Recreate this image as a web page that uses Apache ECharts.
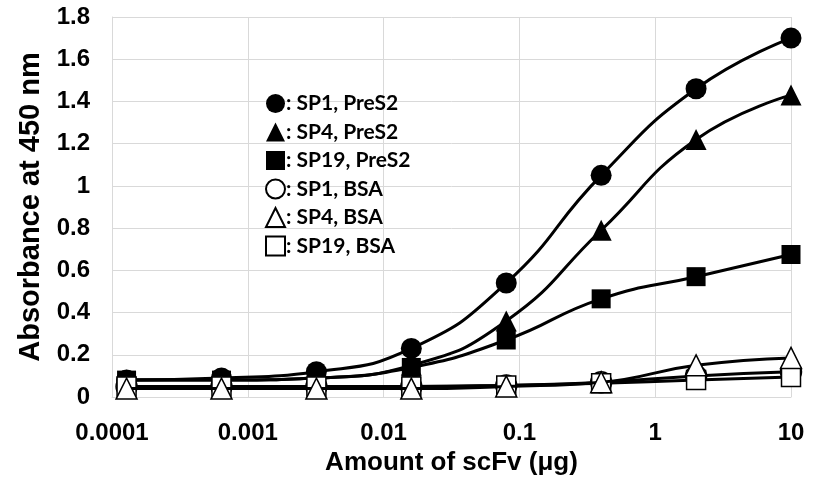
<!DOCTYPE html>
<html><head><meta charset="utf-8">
<script src="https://cdn.jsdelivr.net/npm/echarts@6/dist/echarts.min.js"></script>
<style>html,body{margin:0;padding:0;background:#fff}#c{width:819px;height:489px}</style>
</head><body><div id="c"></div>
<script>
const amounts = [0.000128, 0.00064, 0.0032, 0.016, 0.08, 0.4, 2, 10];
const seriesNames = [': SP1, PreS2', ': SP4, PreS2', ': SP19, PreS2', ': SP1, BSA', ': SP4, BSA', ': SP19, BSA'];
const sp1PreS2 = [0.08, 0.09, 0.12, 0.23, 0.54, 1.05, 1.46, 1.70];
const sp4PreS2 = [0.08, 0.08, 0.09, 0.15, 0.36, 0.79, 1.22, 1.43];
const sp19PreS2 = [0.08, 0.08, 0.09, 0.14, 0.27, 0.465, 0.57, 0.675];
const sp1BSA = [0.05, 0.05, 0.05, 0.05, 0.055, 0.07, 0.10, 0.12];
const sp4BSA = [0.04, 0.04, 0.04, 0.04, 0.05, 0.07, 0.15, 0.185];
const sp19BSA = [0.05, 0.05, 0.05, 0.05, 0.055, 0.065, 0.08, 0.095];
const symbols = ['circle', 'triangle', 'rect', 'circle', 'triangle', 'rect'];
const filled = [true, true, true, false, false, false];
const zOrder = [3, 3, 3, 4, 6, 5];
const values = [sp1PreS2, sp4PreS2, sp19PreS2, sp1BSA, sp4BSA, sp19BSA];

const chart = echarts.init(document.getElementById('c'), null, {renderer: 'canvas'});
const series = values.map((v, i) => ({
  name: seriesNames[i],
  type: 'line',
  smooth: true,
  data: v.map((y, k) => [amounts[k], y]),
  symbol: symbols[i],
  symbolSize: symbols[i] === 'rect' ? 19 : 21,
  lineStyle: {color: '#000', width: 3},
  itemStyle: {color: filled[i] ? '#000' : '#fff', borderColor: '#000', borderWidth: filled[i] ? 0 : 1.5, opacity: 1},
  z: zOrder[i]
}));
chart.setOption({
  animation: false,
  backgroundColor: '#fff',
  grid: {left: 112, right: 28, top: 17, bottom: 92},
  legend: {
    orient: 'vertical', left: 260, top: 88, itemGap: 7.5,
    itemWidth: 19, itemHeight: 19,
    data: seriesNames.map((n, i) => ({name: n, icon: symbols[i]})),
    textStyle: {fontFamily: 'Lato', fontWeight: 'bold', fontSize: 21, color: '#000', padding: [0, 0, 0, -4]}
  },
  xAxis: {
    type: 'log', logBase: 10, min: 0.0001, max: 10,
    name: 'Amount of scFv (μg)', nameLocation: 'middle', nameGap: 53,
    nameTextStyle: {fontFamily: 'Liberation Sans', fontWeight: 'bold', fontSize: 26, color: '#000'},
    axisLine: {lineStyle: {color: '#d9d9d9', width: 1}},
    axisTick: {show: false},
    axisLabel: {fontFamily: 'Liberation Sans', fontWeight: 'bold', fontSize: 24, color: '#000', margin: 24,
      formatter: v => String(+v.toPrecision(1))},
    splitLine: {show: true, lineStyle: {color: '#d9d9d9', width: 1}},
    minorTick: {show: false}
  },
  yAxis: {
    type: 'value', min: 0, max: 1.8, interval: 0.2,
    name: 'Absorbance at 450 nm', nameLocation: 'middle', nameGap: 63,
    nameTextStyle: {fontFamily: 'Liberation Sans', fontWeight: 'bold', fontSize: 29, color: '#000'},
    axisLine: {show: true, lineStyle: {color: '#d9d9d9', width: 1}},
    axisTick: {show: false},
    axisLabel: {fontFamily: 'Liberation Sans', fontWeight: 'bold', fontSize: 24, color: '#000', margin: 22,
      formatter: v => String(+v.toFixed(1))},
    splitLine: {show: true, lineStyle: {color: '#d9d9d9', width: 1}}
  },
  series: series
});
</script></body></html>
